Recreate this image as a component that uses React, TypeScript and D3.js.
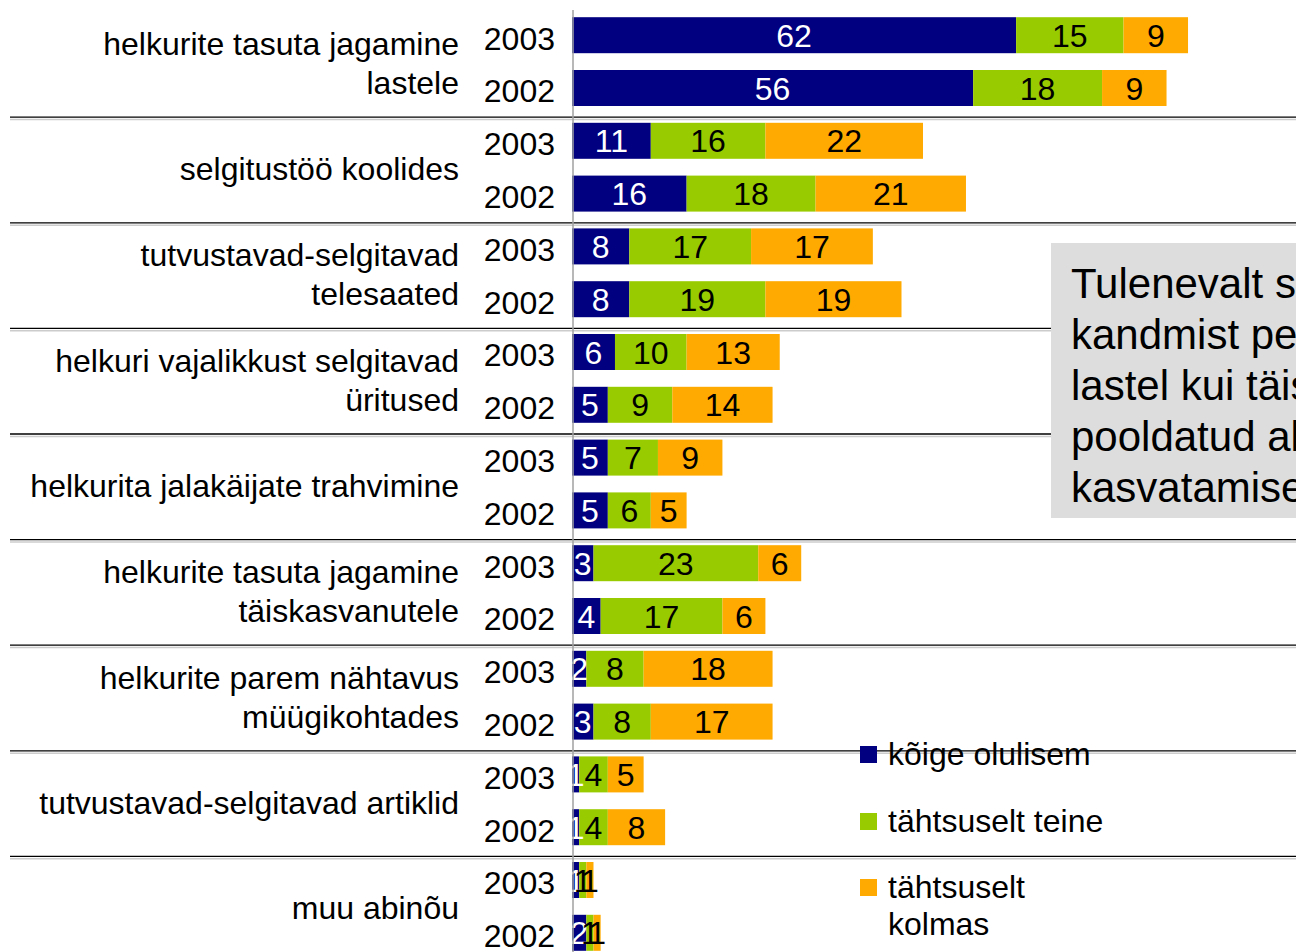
import React from "react";
import * as d3 from "d3";

const categories: string[][] = [
  ["helkurite tasuta jagamine", "lastele"],
  ["selgitustöö koolides"],
  ["tutvustavad-selgitavad", "telesaated"],
  ["helkuri vajalikkust selgitavad", "üritused"],
  ["helkurita jalakäijate trahvimine"],
  ["helkurite tasuta jagamine", "täiskasvanutele"],
  ["helkurite parem nähtavus", "müügikohtades"],
  ["tutvustavad-selgitavad artiklid"],
  ["muu abinõu"],
];
const years = ["2003", "2002"];

// rows: category x year (2003, 2002)
const mostImportant = [62, 56, 11, 16, 8, 8, 6, 5, 5, 5, 3, 4, 2, 3, 1, 1, 1, 2];
const secondImportant = [15, 18, 16, 18, 17, 19, 10, 9, 7, 6, 23, 17, 8, 8, 4, 4, 1, 1];
const thirdImportant = [9, 9, 22, 21, 17, 19, 13, 14, 9, 5, 6, 6, 18, 17, 5, 8, 1, 1];

const seriesNames = ["kõige olulisem", "tähtsuselt teine", ["tähtsuselt", "kolmas"]];
const seriesColors = ["#000080", "#99cc00", "#ffaa00"];
const labelColors = ["#ffffff", "#000000", "#000000"];

const noteLines = ["Tulenevalt s", "kandmist pe", "lastel kui täis", "pooldatud al", "kasvatamise"];

const FONT = "'Liberation Sans', Arial, Helvetica, sans-serif";

export default function App() {
  const W = 1296;
  const H = 952;
  const top = 11.6;
  const groupH = 105.6;
  const rows = d3.range(categories.length * years.length);
  const y = d3
    .scaleBand<number>()
    .domain(rows)
    .range([top, top + groupH * categories.length])
    .padding(0);
  const x = d3.scaleLinear().domain([0, 100]).range([572, 572 + 716.3]);
  const bw = y.bandwidth();
  const barOff = 5.6;
  const barH = 36;

  const stackData = rows.map((r) => ({
    r,
    a: mostImportant[r],
    b: secondImportant[r],
    c: thirdImportant[r],
  }));
  const stack = d3.stack<any>().keys(["a", "b", "c"]);
  const series = stack(stackData);

  const fs = 32;

  return (
    <svg
      width={W}
      height={H}
      style={{ position: "absolute", left: 0, top: 0, fontFamily: FONT }}
    >
      <rect x={0} y={0} width={W} height={H} fill="#ffffff" />
      {/* group separators */}
      {d3.range(1, categories.length).map((k) => {
        const yy = top + k * groupH;
        return (
          <g key={"sep" + k}>
            <line x1={10} x2={W} y1={yy + 2.4} y2={yy + 2.4} stroke="#cccccc" strokeWidth={1.5} />
            <line x1={10} x2={W} y1={yy} y2={yy} stroke="#000000" strokeWidth={1.3} />
          </g>
        );
      })}
      {/* category labels */}
      {categories.map((lines, k) => {
        const cy = top + k * groupH + groupH / 2;
        return (
          <text key={"cat" + k} x={459} textAnchor="end" fontSize={fs} fill="#000">
            {lines.length === 1 ? (
              <tspan x={459} y={cy + 10}>
                {lines[0]}
              </tspan>
            ) : (
              lines.map((l, i) => (
                <tspan key={i} x={459} y={cy - 9.5 + i * 39}>
                  {l}
                </tspan>
              ))
            )}
          </text>
        );
      })}
      {/* year labels */}
      {rows.map((r) => (
        <text
          key={"yr" + r}
          x={555}
          y={(y(r) as number) + bw / 2 + 11.5}
          textAnchor="end"
          fontSize={fs}
          fill="#000"
        >
          {years[r % 2]}
        </text>
      ))}
      {/* bars */}
      {series.map((s, si) => (
        <g key={"s" + si}>
          {s.map((d, i) => {
            const y0 = (y(i) as number) + barOff;
            return (
              <rect
                key={i}
                x={x(d[0])}
                y={y0}
                width={x(d[1]) - x(d[0])}
                height={barH}
                fill={seriesColors[si]}
              />
            );
          })}
        </g>
      ))}
      {series.map((s, si) => (
        <g key={"l" + si}>
          {s.map((d, i) => {
            const y0 = (y(i) as number) + barOff;
            return (
              <text
                key={i}
                x={(x(d[0]) + x(d[1])) / 2}
                y={y0 + barH / 2 + 11.5}
                textAnchor="middle"
                fontSize={fs}
                fill={labelColors[si]}
              >
                {d[1] - d[0]}
              </text>
            );
          })}
        </g>
      ))}
      {/* axis line */}
      <line x1={573} x2={573} y1={10} y2={H} stroke="#a0a0a0" strokeWidth={1.5} />
      {/* note box */}
      <rect x={1051} y={243} width={300} height={275} fill="#dddddd" />
      {noteLines.map((l, i) => (
        <text key={"n" + i} x={1071} y={298 + i * 51} fontSize={42} fill="#000">
          {l}
        </text>
      ))}
      {/* legend */}
      {seriesNames.map((n, i) => {
        const base = [765, 832, 898][i];
        return (
          <g key={"lg" + i}>
            <rect x={860} y={base - 19} width={17} height={17} fill={seriesColors[i]} />
            <text x={888} fontSize={fs} fill="#000">
              {Array.isArray(n) ? (
                n.map((t, j) => (
                  <tspan key={j} x={888} y={base + j * 37}>
                    {t}
                  </tspan>
                ))
              ) : (
                <tspan x={888} y={base}>
                  {n}
                </tspan>
              )}
            </text>
          </g>
        );
      })}
    </svg>
  );
}
